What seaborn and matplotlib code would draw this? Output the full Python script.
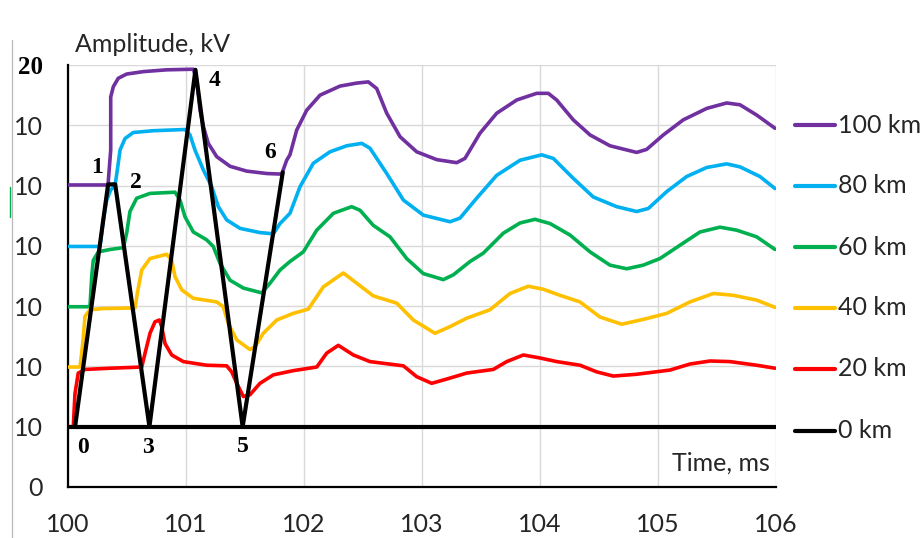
import numpy as np
import pandas as pd
import matplotlib
matplotlib.use("Agg")
import matplotlib.pyplot as plt
import matplotlib.transforms as mtransforms
from matplotlib.lines import Line2D
import seaborn as sns

# ---- data -------------------------------------------------------------
distances = ["100 km", "80 km", "60 km", "40 km", "20 km", "0 km"]
colors = ["#7030A0", "#00B0F0", "#00B050", "#FFC000", "#FF0000", "#000000"]

t_100 = [100.000, 100.339, 100.362, 100.362, 100.384, 100.426, 100.497, 100.638, 100.836, 101.062,
         101.091, 101.119, 101.147, 101.189, 101.260, 101.373, 101.514, 101.684, 101.811, 101.853,
         101.881, 101.938, 102.023, 102.136, 102.305, 102.447, 102.545, 102.616, 102.701, 102.814,
         102.955, 103.125, 103.294, 103.364, 103.492, 103.633, 103.803, 103.972, 104.070, 104.141,
         104.282, 104.424, 104.593, 104.819, 104.904, 105.045, 105.214, 105.413, 105.582, 105.695,
         105.836, 105.992]
a_100 = [5.01, 5.01, 5.59, 6.47, 6.64, 6.78, 6.85, 6.89, 6.92, 6.93,
         6.75, 6.25, 5.98, 5.70, 5.48, 5.32, 5.24, 5.20, 5.19, 5.42,
         5.51, 5.92, 6.25, 6.50, 6.65, 6.70, 6.72, 6.61, 6.20, 5.81,
         5.56, 5.43, 5.38, 5.45, 5.87, 6.20, 6.42, 6.53, 6.53, 6.42,
         6.09, 5.84, 5.66, 5.55, 5.60, 5.84, 6.09, 6.28, 6.37, 6.34,
         6.17, 5.95]

t_80 = [100.000, 100.271, 100.299, 100.328, 100.362, 100.398, 100.418, 100.441, 100.483, 100.553,
        100.723, 100.992, 101.034, 101.076, 101.147, 101.218, 101.274, 101.345, 101.458, 101.627,
        101.740, 101.797, 101.881, 101.966, 102.079, 102.220, 102.362, 102.489, 102.559, 102.701,
        102.842, 103.011, 103.237, 103.322, 103.463, 103.633, 103.831, 104.014, 104.113, 104.282,
        104.452, 104.650, 104.819, 104.918, 105.074, 105.243, 105.413, 105.582, 105.695, 105.864,
        105.992]
a_80 = [3.99, 3.99, 4.43, 4.76, 4.93, 4.99, 5.26, 5.59, 5.78, 5.88,
        5.91, 5.93, 5.84, 5.59, 5.26, 4.98, 4.65, 4.43, 4.29, 4.22,
        4.20, 4.37, 4.54, 4.98, 5.37, 5.56, 5.66, 5.70, 5.62, 5.20,
        4.76, 4.51, 4.40, 4.46, 4.79, 5.17, 5.42, 5.51, 5.45, 5.12,
        4.81, 4.65, 4.57, 4.62, 4.90, 5.15, 5.30, 5.36, 5.31, 5.15,
        4.95]

t_60 = [100.000, 100.186, 100.201, 100.214, 100.257, 100.356, 100.469, 100.497, 100.525, 100.582,
        100.695, 100.907, 100.949, 100.992, 101.062, 101.175, 101.231, 101.288, 101.373, 101.486,
        101.642, 101.712, 101.797, 101.881, 101.994, 102.108, 102.249, 102.404, 102.475, 102.587,
        102.729, 102.870, 103.011, 103.181, 103.266, 103.407, 103.520, 103.689, 103.831, 103.958,
        104.085, 104.254, 104.424, 104.593, 104.735, 104.875, 105.017, 105.186, 105.356, 105.525,
        105.667, 105.836, 105.992]
a_60 = [2.99, 2.99, 3.49, 3.76, 3.90, 3.94, 3.97, 4.21, 4.57, 4.79,
        4.87, 4.89, 4.76, 4.48, 4.23, 4.10, 3.99, 3.71, 3.43, 3.30,
        3.22, 3.38, 3.60, 3.74, 3.90, 4.26, 4.54, 4.65, 4.59, 4.34,
        4.15, 3.79, 3.54, 3.44, 3.52, 3.74, 3.88, 4.21, 4.38, 4.44,
        4.37, 4.18, 3.90, 3.68, 3.62, 3.68, 3.79, 4.01, 4.23, 4.31,
        4.26, 4.15, 3.94]

t_40 = [100.000, 100.102, 100.125, 100.144, 100.186, 100.299, 100.568, 100.587, 100.625, 100.695,
        100.836, 100.879, 100.907, 100.964, 101.062, 101.260, 101.316, 101.358, 101.430, 101.542,
        101.585, 101.655, 101.769, 101.909, 102.036, 102.164, 102.333, 102.447, 102.587, 102.786,
        102.926, 103.110, 103.237, 103.379, 103.576, 103.746, 103.901, 104.028, 104.169, 104.339,
        104.508, 104.692, 104.875, 105.074, 105.271, 105.469, 105.638, 105.836, 105.992]
a_40 = [1.99, 1.99, 2.38, 2.83, 2.94, 2.96, 2.97, 3.21, 3.60, 3.79,
        3.86, 3.76, 3.49, 3.27, 3.13, 3.07, 2.99, 2.71, 2.44, 2.28,
        2.33, 2.55, 2.77, 2.88, 2.95, 3.32, 3.55, 3.38, 3.17, 3.05,
        2.77, 2.55, 2.66, 2.80, 2.94, 3.21, 3.33, 3.28, 3.18, 3.07,
        2.82, 2.70, 2.78, 2.88, 3.07, 3.21, 3.18, 3.10, 2.98]

t_20 = [100.000, 100.045, 100.059, 100.087, 100.144, 100.356, 100.625, 100.653, 100.695, 100.737,
        100.774, 100.794, 100.822, 100.879, 100.977, 101.175, 101.345, 101.387, 101.430, 101.486,
        101.542, 101.627, 101.740, 101.909, 102.108, 102.192, 102.291, 102.418, 102.559, 102.842,
        102.955, 103.082, 103.209, 103.379, 103.604, 103.718, 103.859, 104.000, 104.142, 104.339,
        104.480, 104.621, 104.819, 105.102, 105.271, 105.441, 105.610, 105.836, 105.992]
a_20 = [1.00, 1.00, 1.55, 1.89, 1.95, 1.97, 1.99, 2.22, 2.55, 2.74,
        2.77, 2.66, 2.38, 2.19, 2.08, 2.02, 2.01, 1.91, 1.72, 1.50,
        1.53, 1.72, 1.86, 1.93, 1.99, 2.22, 2.35, 2.19, 2.08, 2.01,
        1.83, 1.72, 1.79, 1.89, 1.95, 2.08, 2.19, 2.14, 2.08, 2.02,
        1.91, 1.84, 1.87, 1.94, 2.04, 2.09, 2.08, 2.02, 1.97]

t_0 = [100.0, 106.0]
a_0 = [1.0, 1.0]

# reflected-wave path and its numbered vertices
path_t = [100.06, 100.34, 100.40, 100.69, 101.08, 101.48, 101.82]
path_a = [1.00, 5.02, 5.02, 1.00, 6.92, 1.00, 5.22]
path_labels = ["0", "1", "2", "3", "4", "5", "6"]
path_label_offsets = [(6, -15), (-8, 12), (15, 1), (-1, -15), (14, -8), (0, -14), (-9, 14)]

x_ticks = [100, 101, 102, 103, 104, 105, 106]
y_ticks = [0, 1, 2, 3, 4, 5, 6, 7]
y_tick_labels = ["0", "10", "10", "10", "10", "10", "10", "20"]
legend_levels = [6.0, 5.0, 3.98, 2.97, 1.96, 0.93]

series_t = [t_100, t_80, t_60, t_40, t_20]
series_a = [a_100, a_80, a_60, a_40, a_20]

# ---- figure -----------------------------------------------------------
sns.set_theme(style="white")
plt.rcParams["font.family"] = ["Lato", "DejaVu Sans"]
text_color = "#262626"
fs = 18

fig = plt.figure(figsize=(9.24, 5.38), dpi=100)
ax = fig.add_axes([68 / 924, 1 - 487 / 538, 708 / 924, 422 / 538])

frames = []
for name, t, a in zip(distances[:-1], series_t, series_a):
    frames.append(pd.DataFrame({"t": t, "amp": a, "dist": name}))
df = pd.concat(frames, ignore_index=True)
palette = dict(zip(distances, colors))

sns.lineplot(data=df, x="t", y="amp", hue="dist", hue_order=distances[:-1],
             palette=palette, sort=False, estimator=None, linewidth=2.6,
             legend=False, ax=ax, zorder=3)
sns.lineplot(x=t_0, y=a_0, color=palette["0 km"], linewidth=3.0,
             sort=False, estimator=None, ax=ax, zorder=4)
sns.lineplot(x=path_t, y=path_a, color="black", linewidth=3.0,
             sort=False, estimator=None, ax=ax, zorder=5)
for ln in ax.lines:
    ln.set_solid_joinstyle("round")
    ln.set_solid_capstyle("round")

for lbl, tx, ay, off in zip(path_labels, path_t, path_a, path_label_offsets):
    ax.annotate(lbl, xy=(tx, ay), xytext=off, textcoords="offset points",
                ha="center", va="center", fontsize=17, fontweight="bold",
                family=["Liberation Serif", "DejaVu Serif"], color="black",
                zorder=6)

ax.set_xlim(100, 106)
ax.set_ylim(0, 7)
ax.set_xticks(x_ticks)
ax.set_xticklabels([str(v) for v in x_ticks])
ax.set_yticks(y_ticks)
ax.set_yticklabels(y_tick_labels)
ax.set_xlabel("")
ax.set_ylabel("")

ax.grid(True, color="#d9d9d9", linewidth=1.0)
ax.set_axisbelow(True)
for side in ("top", "right"):
    ax.spines[side].set_visible(False)
for side in ("left", "bottom"):
    ax.spines[side].set_color("black")
    ax.spines[side].set_linewidth(1.6)

ax.tick_params(axis="x", direction="in", length=7, width=1.4, color="black",
               labelsize=fs, labelcolor=text_color, pad=19)
ax.tick_params(axis="y", length=0, labelsize=fs, labelcolor=text_color, pad=18)
top_label = ax.get_yticklabels()[-1]
top_label.set_fontfamily(["Liberation Serif", "DejaVu Serif"])
top_label.set_fontweight("bold")
top_label.set_color("black")

ax.text(105.95, 0.40, "Time, ms", ha="right", va="center", fontsize=fs,
        color=text_color)
fig.text(75 / 924, 1 - 45 / 538, "Amplitude, kV", ha="left", va="center",
         fontsize=fs, color=text_color)

# legend entries aligned to their lanes on the right
blend = mtransforms.blended_transform_factory(ax.transAxes, ax.transData)
for name, col, lvl in zip(distances, colors, legend_levels):
    ax.add_line(Line2D([1.027, 1.083], [lvl, lvl], transform=blend, color=col,
                       linewidth=3.0, clip_on=False))
    ax.text(1.088, lvl, name, transform=blend, ha="left", va="center",
            fontsize=fs, color=text_color, clip_on=False)

# thin frame edge at the far left
fig.add_artist(Line2D([12 / 924, 12 / 924], [0, 1 - 40 / 538],
                      color="#b8b8b8", linewidth=0.9))
fig.add_artist(Line2D([10 / 924, 10 / 924], [1 - 187 / 538, 1 - 217 / 538],
                      color="#00B050", linewidth=1.0))

fig.savefig("out.png", dpi=100)
